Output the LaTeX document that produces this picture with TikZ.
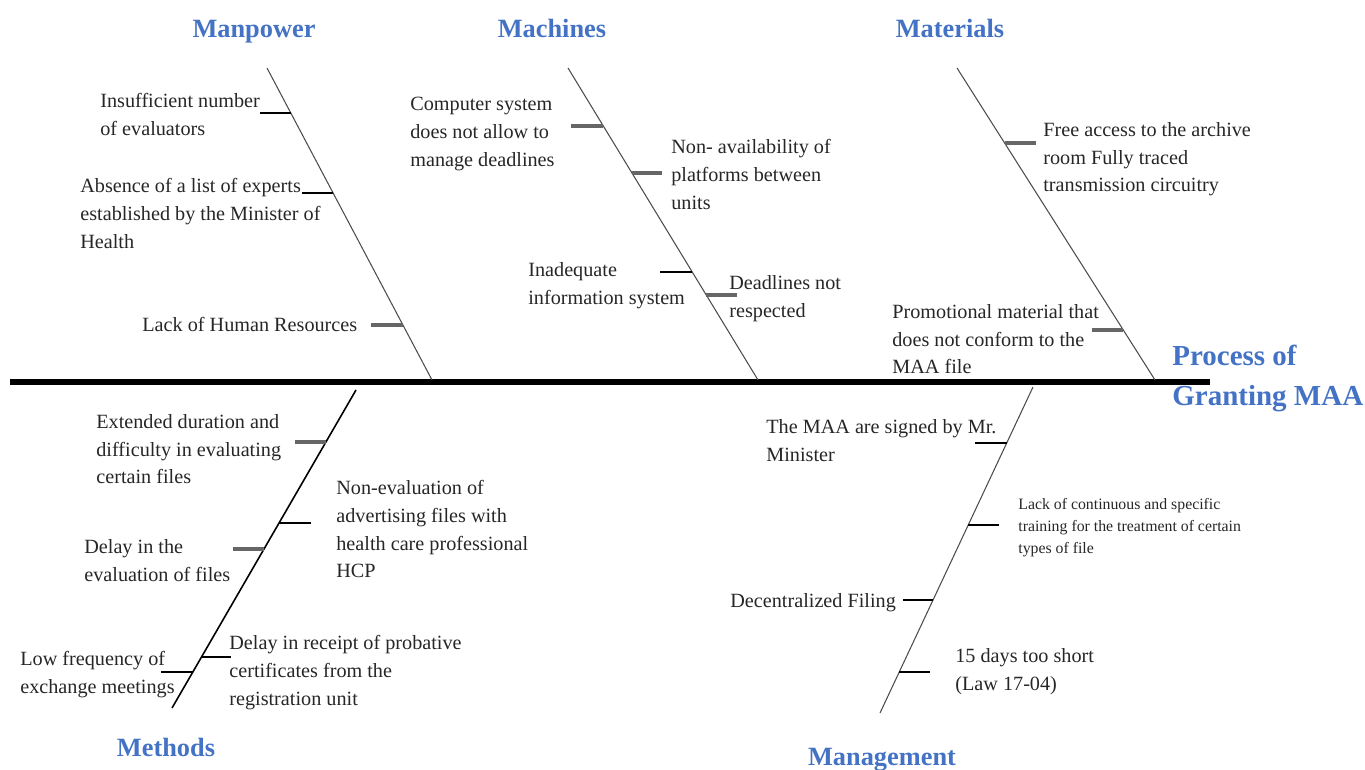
\documentclass[tikz,border=0pt]{standalone}
\usepackage{fontspec}
\setmainfont{Liberation Serif}
\definecolor{catblue}{RGB}{68,114,196}
\begin{document}
\begin{tikzpicture}[x=0.02cm, y=-0.02cm,
            spine/.style={line width=3.2pt, black},
            bone/.style={line width=0.6pt, black!70},
            tickg/.style={line width=2pt, black!60},
            tickb/.style={line width=1.1pt, black},
            cause/.style={anchor=north west, inner sep=0pt, align=left, font=\fontsize{11.5}{15.8}\selectfont, text=black!85},
            small/.style={cause, font=\fontsize{9}{12.6}\selectfont},
            cat/.style={anchor=base, inner sep=0pt, font=\fontsize{15}{18}\selectfont\bfseries, text=catblue}
        ]
        \useasboundingbox (0,0) rectangle (1365,770);

        \coordinate (head) at (1210,382);
        \coordinate (tail) at (10,382);
        \draw[spine] (tail) -- (head);

        \coordinate (manT) at (267,68);   \coordinate (manB) at (432,380);
        \coordinate (macT) at (568,68);   \coordinate (macB) at (758,380);
        \coordinate (matT) at (957,68);   \coordinate (matB) at (1155,380);
        \coordinate (metT) at (356,390);  \coordinate (metB) at (172,708);
        \coordinate (mgtT) at (1033,387); \coordinate (mgtB) at (880,713);
        \draw[bone] (manT) -- (manB);
        \draw[bone] (macT) -- (macB);
        \draw[bone] (matT) -- (matB);
        \draw[bone, black, line width=0.9pt] (metT) -- (metB);
        \draw[bone] (mgtT) -- (mgtB);

        \node[cat] (manpower) at (254,38) {Manpower};
        \node[cat] (machines) at (552,38) {Machines};
        \node[cat] (materials) at (950,38) {Materials};
        \node[cat] (methods) at (166,756) {Methods};
        \node[cat] (management) at (882,765) {Management};
        \node[anchor=north west, inner sep=0pt, align=left, font=\fontsize{16.5}{22.5}\selectfont\bfseries, text=catblue] (effect) at (1172,345) {Process of\\Granting MAA};

        % Manpower
        \coordinate (man1) at (291,113); \coordinate (man2) at (333,193); \coordinate (man3) at (403,325);
        \node[cause] (c11) at (100,93) {Insufficient number\\of evaluators};
        \node[cause] (c12) at (80,178) {Absence of a list of experts\\established by the Minister of\\Health};
        \node[cause] (c13) at (142,317) {Lack of Human Resources};
        \draw[tickb] (man1) -- ++(-31,0);
        \draw[tickb] (man2) -- ++(-31,0);
        \draw[tickg] (man3) -- ++(-32,0);

        % Machines
        \coordinate (mac1) at (603,126); \coordinate (mac2) at (632,173);
        \coordinate (mac3) at (692,272); \coordinate (mac4) at (706,295);
        \node[cause] (c21) at (410,97) {Computer system\\does not allow to\\manage deadlines};
        \node[cause] (c22) at (671,139) {Non- availability of\\platforms between\\units};
        \node[cause] (c23) at (528,262) {Inadequate\\information system};
        \node[cause] (c24) at (729,275) {Deadlines not\\respected};
        \draw[tickg] (mac1) -- ++(-32,0);
        \draw[tickg] (mac2) -- ++(30,0);
        \draw[tickb] (mac3) -- ++(-32,0);
        \draw[tickg] (mac4) -- ++(31,0);

        % Materials
        \coordinate (mat1) at (1005,143); \coordinate (mat2) at (1123,330);
        \node[cause] (c31) at (1043,122) {Free access to the archive\\room Fully traced\\transmission circuitry};
        \node[cause] (c32) at (892,304) {Promotional material that\\does not conform to the\\MAA file};
        \draw[tickg] (mat1) -- ++(31,0);
        \draw[tickg] (mat2) -- ++(-31,0);

        % Methods
        \coordinate (met1) at (326,442); \coordinate (met2) at (279,523); \coordinate (met3) at (264,549);
        \coordinate (met4) at (201,657); \coordinate (met5) at (193,672);
        \node[cause] (c41) at (96,414) {Extended duration and\\difficulty in evaluating\\certain files};
        \node[cause] (c42) at (336,480) {Non-evaluation of\\advertising files with\\health care professional\\HCP};
        \node[cause] (c43) at (84,539) {Delay in the\\evaluation of files};
        \node[cause] (c44) at (229,635) {Delay in receipt of probative\\certificates from the\\registration unit};
        \node[cause] (c45) at (20,651) {Low frequency of\\exchange meetings};
        \draw[tickg] (met1) -- ++(-31,0);
        \draw[tickb] (met2) -- ++(32,0);
        \draw[tickg] (met3) -- ++(-31,0);
        \draw[tickb] (met4) -- ++(30,0);
        \draw[tickb] (met5) -- ++(-32,0);

        % Management
        \coordinate (mgt1) at (1007,443); \coordinate (mgt2) at (968,525);
        \coordinate (mgt3) at (933,600); \coordinate (mgt4) at (899,672);
        \node[cause] (c51) at (766,419) {The MAA are signed by Mr.\\Minister};
        \node[small] (c52) at (1018,498) {Lack of continuous and specific\\training for the treatment of certain\\types of file};
        \node[cause] (c53) at (730,593) {Decentralized Filing};
        \node[cause] (c54) at (955,648) {15 days too short\\(Law 17-04)};
        \draw[tickb] (mgt1) -- ++(-32,0);
        \draw[tickb] (mgt2) -- ++(31,0);
        \draw[tickb] (mgt3) -- ++(-30,0);
        \draw[tickb] (mgt4) -- ++(31,0);
    \end{tikzpicture}
\end{document}
